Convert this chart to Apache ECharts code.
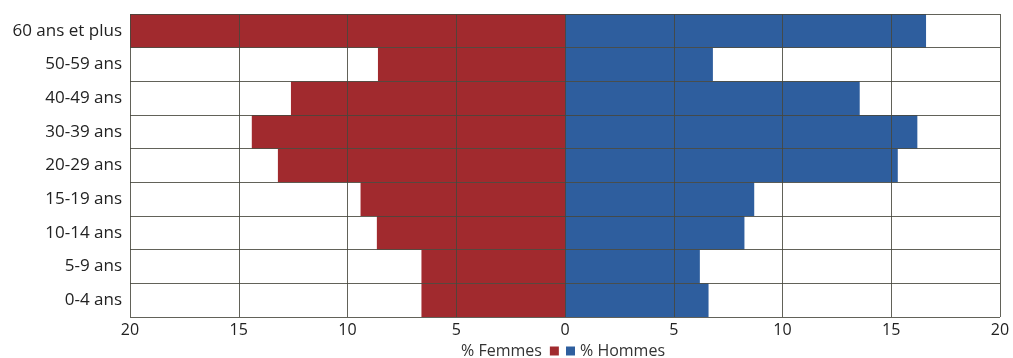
<!DOCTYPE html>
<html>
<head>
<meta charset="utf-8">
<script src="https://cdn.jsdelivr.net/npm/echarts@6/dist/echarts.min.js"></script>
<style>
  html, body { margin: 0; padding: 0; background: #fff; }
  #chart { width: 1013px; height: 358px; }
</style>
</head>
<body>
<div id="chart"></div>
<script>
// Age groups, bottom to top
const ageGroups = ['0-4 ans', '5-9 ans', '10-14 ans', '15-19 ans', '20-29 ans', '30-39 ans', '40-49 ans', '50-59 ans', '60 ans et plus'];
// Share of population (%) per age group
const femmes = [6.6, 6.6, 8.65, 9.4, 13.2, 14.4, 12.6, 8.6, 20];
const hommes = [6.6, 6.2, 8.25, 8.7, 15.3, 16.2, 13.55, 6.8, 16.6];

const FONT = '"Open Sans", Lato, sans-serif';
const RED = '#A12A2E';
const BLUE = '#2E5E9E';
const GRID_LINE = 'rgba(70,70,60,0.85)';

const chart = echarts.init(document.getElementById('chart'), null, { renderer: 'canvas' });

chart.setOption({
  animation: false,
  backgroundColor: '#fff',
  grid: { left: 130, right: 13, top: 14, bottom: 41, containLabel: false },
  legend: [
    {
      data: ['% Femmes'],
      align: 'right',
      left: 456, top: 338,
      itemWidth: 9, itemHeight: 9, itemGap: 4,
      icon: 'rect',
      textStyle: { fontFamily: FONT, fontSize: 16, color: '#333', padding: [0, 3, 0, 0] }
    },
    {
      data: ['% Hommes'],
      align: 'left',
      left: 561, top: 338,
      itemWidth: 9, itemHeight: 9, itemGap: 4,
      icon: 'rect',
      textStyle: { fontFamily: FONT, fontSize: 16, color: '#333' }
    }
  ],
  xAxis: {
    type: 'value',
    min: -20, max: 20, interval: 5,
    z: 5,
    axisLine: { show: false },
    axisTick: { show: false },
    axisLabel: {
      fontFamily: FONT, fontSize: 16, color: '#222', margin: 5,
      formatter: v => String(Math.abs(v))
    },
    splitLine: { show: true, lineStyle: { color: GRID_LINE, width: 1 } }
  },
  yAxis: {
    type: 'category',
    data: ageGroups,
    z: 5,
    axisLine: { show: false },
    axisTick: { show: false },
    axisLabel: { fontFamily: FONT, fontSize: 17, color: '#222', margin: 8 },
    splitLine: { show: true, lineStyle: { color: GRID_LINE, width: 1 } }
  },
  series: [
    {
      name: '% Femmes',
      type: 'bar',
      stack: 'pyramide',
      barCategoryGap: 0,
      itemStyle: { color: RED },
      data: femmes.map(v => -v)
    },
    {
      name: '% Hommes',
      type: 'bar',
      stack: 'pyramide',
      barCategoryGap: 0,
      itemStyle: { color: BLUE },
      data: hommes
    }
  ]
});
</script>
</body>
</html>
